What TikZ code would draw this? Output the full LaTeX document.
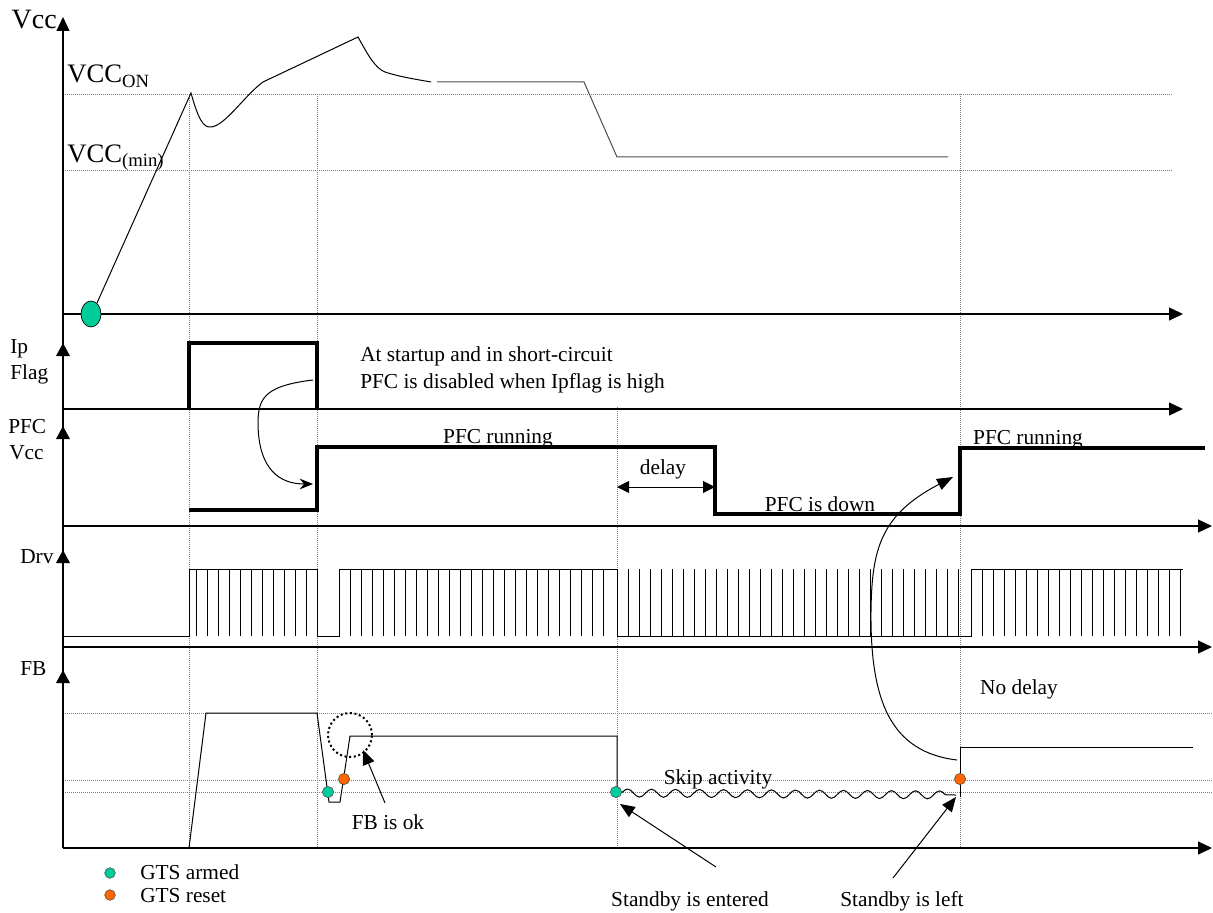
\documentclass[tikz,border=0pt]{standalone}
\usepackage{fontspec}
\setmainfont{Liberation Serif}
\usetikzlibrary{arrows.meta,decorations.pathmorphing}
\definecolor{gtsgreen}{RGB}{0,204,153}
\definecolor{gtsorange}{RGB}{255,102,0}
\tikzset{
  axis/.style={line width=0.8pt,-{Triangle[width=9.75pt,length=10.5pt]}},
  guide/.style={gray,line width=0.7pt,dash pattern=on 0.75pt off 0.75pt},
  sig/.style={line width=0.75pt},
  bold/.style={line width=3pt},
  lbl/.style={font=\fontsize{16}{20}\selectfont,inner sep=0pt},
  big/.style={font=\fontsize{20}{24}\selectfont,inner sep=0pt},
  gts/.style={circle,draw=black!70,line width=0.4pt,inner sep=0pt,minimum size=8.5pt},
  ptr/.style={line width=0.75pt,-{Triangle[width=9pt,length=11pt]}},
}
\begin{document}
\begin{tikzpicture}[x=0.75pt,y=-0.75pt]
    \useasboundingbox (0,0) rectangle (1213,913);
    % dotted guide lines
    \foreach \y/\xe in {94/1172,170/1172,713/1212,780/1212,792/1212}
    \draw[guide] (63,\y) -- (\xe,\y);
    \foreach \x/\ys in {189/94,317/94,617/407,960/94}
    \draw[guide] (\x,\ys) -- (\x,848);

    % axes
    \draw[axis] (63,848) -- (63,17);
    \foreach \y in {343,426,550,670}
    \fill (56,\y+13) -- (63,\y) -- (70,\y+13) -- cycle;
    \foreach \y/\xe in {314/1183,409/1183,526/1212,647/1212,848/1212}
    \draw[axis] (63,\y) -- (\xe,\y);

    % axis names
    \node[anchor=base east,inner sep=0pt,font=\fontsize{21}{24}\selectfont] (vcc) at (57,29) {Vcc};
    \node[big,anchor=base west] (vccon) at (67,83) {VCC\textsubscript{ON}};
    \node[big,anchor=base west] (vccmin) at (67,162) {VCC\textsubscript{(min)}};
    \node[lbl,anchor=base west] (ip) at (10,353) {Ip};
    \node[lbl,anchor=base west] (flag) at (10,379) {Flag};
    \node[lbl,anchor=base west] (pfc) at (8,433) {PFC};
    \node[lbl,anchor=base west] (pfcvcc) at (9,459) {Vcc};
    \node[lbl,anchor=base west] (drv) at (20,563) {Drv};
    \node[lbl,anchor=base west] (fb) at (20,675) {FB};

    % Vcc
    \draw[fill=gtsgreen,line width=0.5pt] (91,314) ellipse [x radius=7.5pt,y radius=9.75pt];
    \draw[sig] (97,303) -- (191,93) .. controls (198,118) and (203,128) .. (211,127)
      .. controls (225,126) and (245,95) .. (263,82) -- (358,37)
      .. controls (368,55) and (375,68) .. (385,72) .. controls (400,77) and (420,80) .. (431,82);
    \draw[sig,gray!60!black] (437,82) -- (584,82) -- (617,157) -- (948,157);

    % Ip flag
    \draw[bold] (189,409) -- (189,343) -- (317,343) -- (317,409);
    \node[lbl,anchor=base west] (note1) at (360,361) {At startup and in short-circuit};
    \node[lbl,anchor=base west] (note2) at (360,388) {PFC is disabled when Ipflag is high};
    \draw[sig,-{Stealth[length=10pt,width=8pt]}] (313,380) .. controls (262,386) and (258,400) .. (258,425)
      .. controls (259,470) and (280,484) .. (313,484);

    % PFC Vcc
    \draw[bold] (189,510) -- (317,510) -- (317,447) -- (715,447) -- (715,514) -- (960,514) -- (960,448) -- (1205,448);
    \node[lbl,anchor=base] (run1) at (498,443) {PFC running};
    \node[lbl,anchor=base] (run2) at (1028,444) {PFC running};
    \node[lbl,anchor=base] (down) at (820,511) {PFC is down};
    \node[lbl,anchor=base] (delay) at (663,474) {delay};
    \coordinate (dl) at (617,487);
    \coordinate (dr) at (715,487);
    \draw[sig,{Triangle[width=9pt,length=9pt]}-{Triangle[width=9pt,length=9pt]}] (dl) -- (dr);

    % Drv
    \draw[sig] (63,636) -- (189,636) -- (189,569) -- (317,569) -- (317,636) -- (339,636) -- (339,569)
      -- (617,569) -- (617,636) -- (971,636) -- (971,569) -- (1183,569);
    \foreach \x in {196,207,...,306,350,361,...,606,628,639,...,960,982,993,...,1182}
    \draw[sig] (\x,569) -- (\x,636);

    % FB
    \draw[sig] (189,848) -- (206,713) -- (317,713) -- (329,802) -- (340,802) -- (350,736) -- (617,736) -- (617,792);
    \draw[sig,decorate,decoration={snake,amplitude=3pt,segment length=18pt}] (620,793) -- (956,795);
    \draw[sig] (960,797) -- (960,747) -- (1193,747);
    \draw[line width=1.5pt,dash pattern=on 1.5pt off 2pt] (350,735) circle [radius=16.5pt];
    \node[gts,fill=gtsgreen] (arm1) at (328,792) {};
    \node[gts,fill=gtsorange] (rst1) at (344,779) {};
    \node[gts,fill=gtsgreen] (arm2) at (616,792) {};
    \node[gts,fill=gtsorange] (rst2) at (960,779) {};
    \node[lbl,anchor=base] (skip) at (718,784) {Skip activity};
    \node[lbl,anchor=base] (nodelay) at (1019,694) {No delay};
    \node[lbl,anchor=base] (fbok) at (388,829) {FB is ok};
    \node[lbl,anchor=base] (sbin) at (690,906) {Standby is entered};
    \node[lbl,anchor=base] (sbout) at (902,906) {Standby is left};

    % pointers
    \coordinate (okTail) at (385,803);
    \coordinate (okTip) at (363,750);
    \draw[ptr] (okTail) -- (okTip);
    \coordinate (inTail) at (716,867);
    \coordinate (inTip) at (620,804);
    \draw[ptr] (inTail) -- (inTip);
    \coordinate (outTail) at (893,878);
    \coordinate (outTip) at (956,797);
    \draw[ptr] (outTail) -- (outTip);
    \coordinate (backTail) at (957,760);
    \coordinate (backTip) at (953,477);
    \draw[sig,-{Triangle[width=9pt,length=12pt]}] (backTail) .. controls (890,752) and (870,700) .. (871,610)
      .. controls (872,550) and (880,515) .. (backTip);

    % legend
    \node[gts,fill=gtsgreen,minimum size=8pt] (legA) at (110,873) {};
    \node[gts,fill=gtsorange,minimum size=8pt] (legB) at (110,895) {};
    \node[lbl,anchor=base west] (legAtext) at (140,879) {GTS armed};
    \node[lbl,anchor=base west] (legBtext) at (140,902) {GTS reset};
\end{tikzpicture}
\end{document}
